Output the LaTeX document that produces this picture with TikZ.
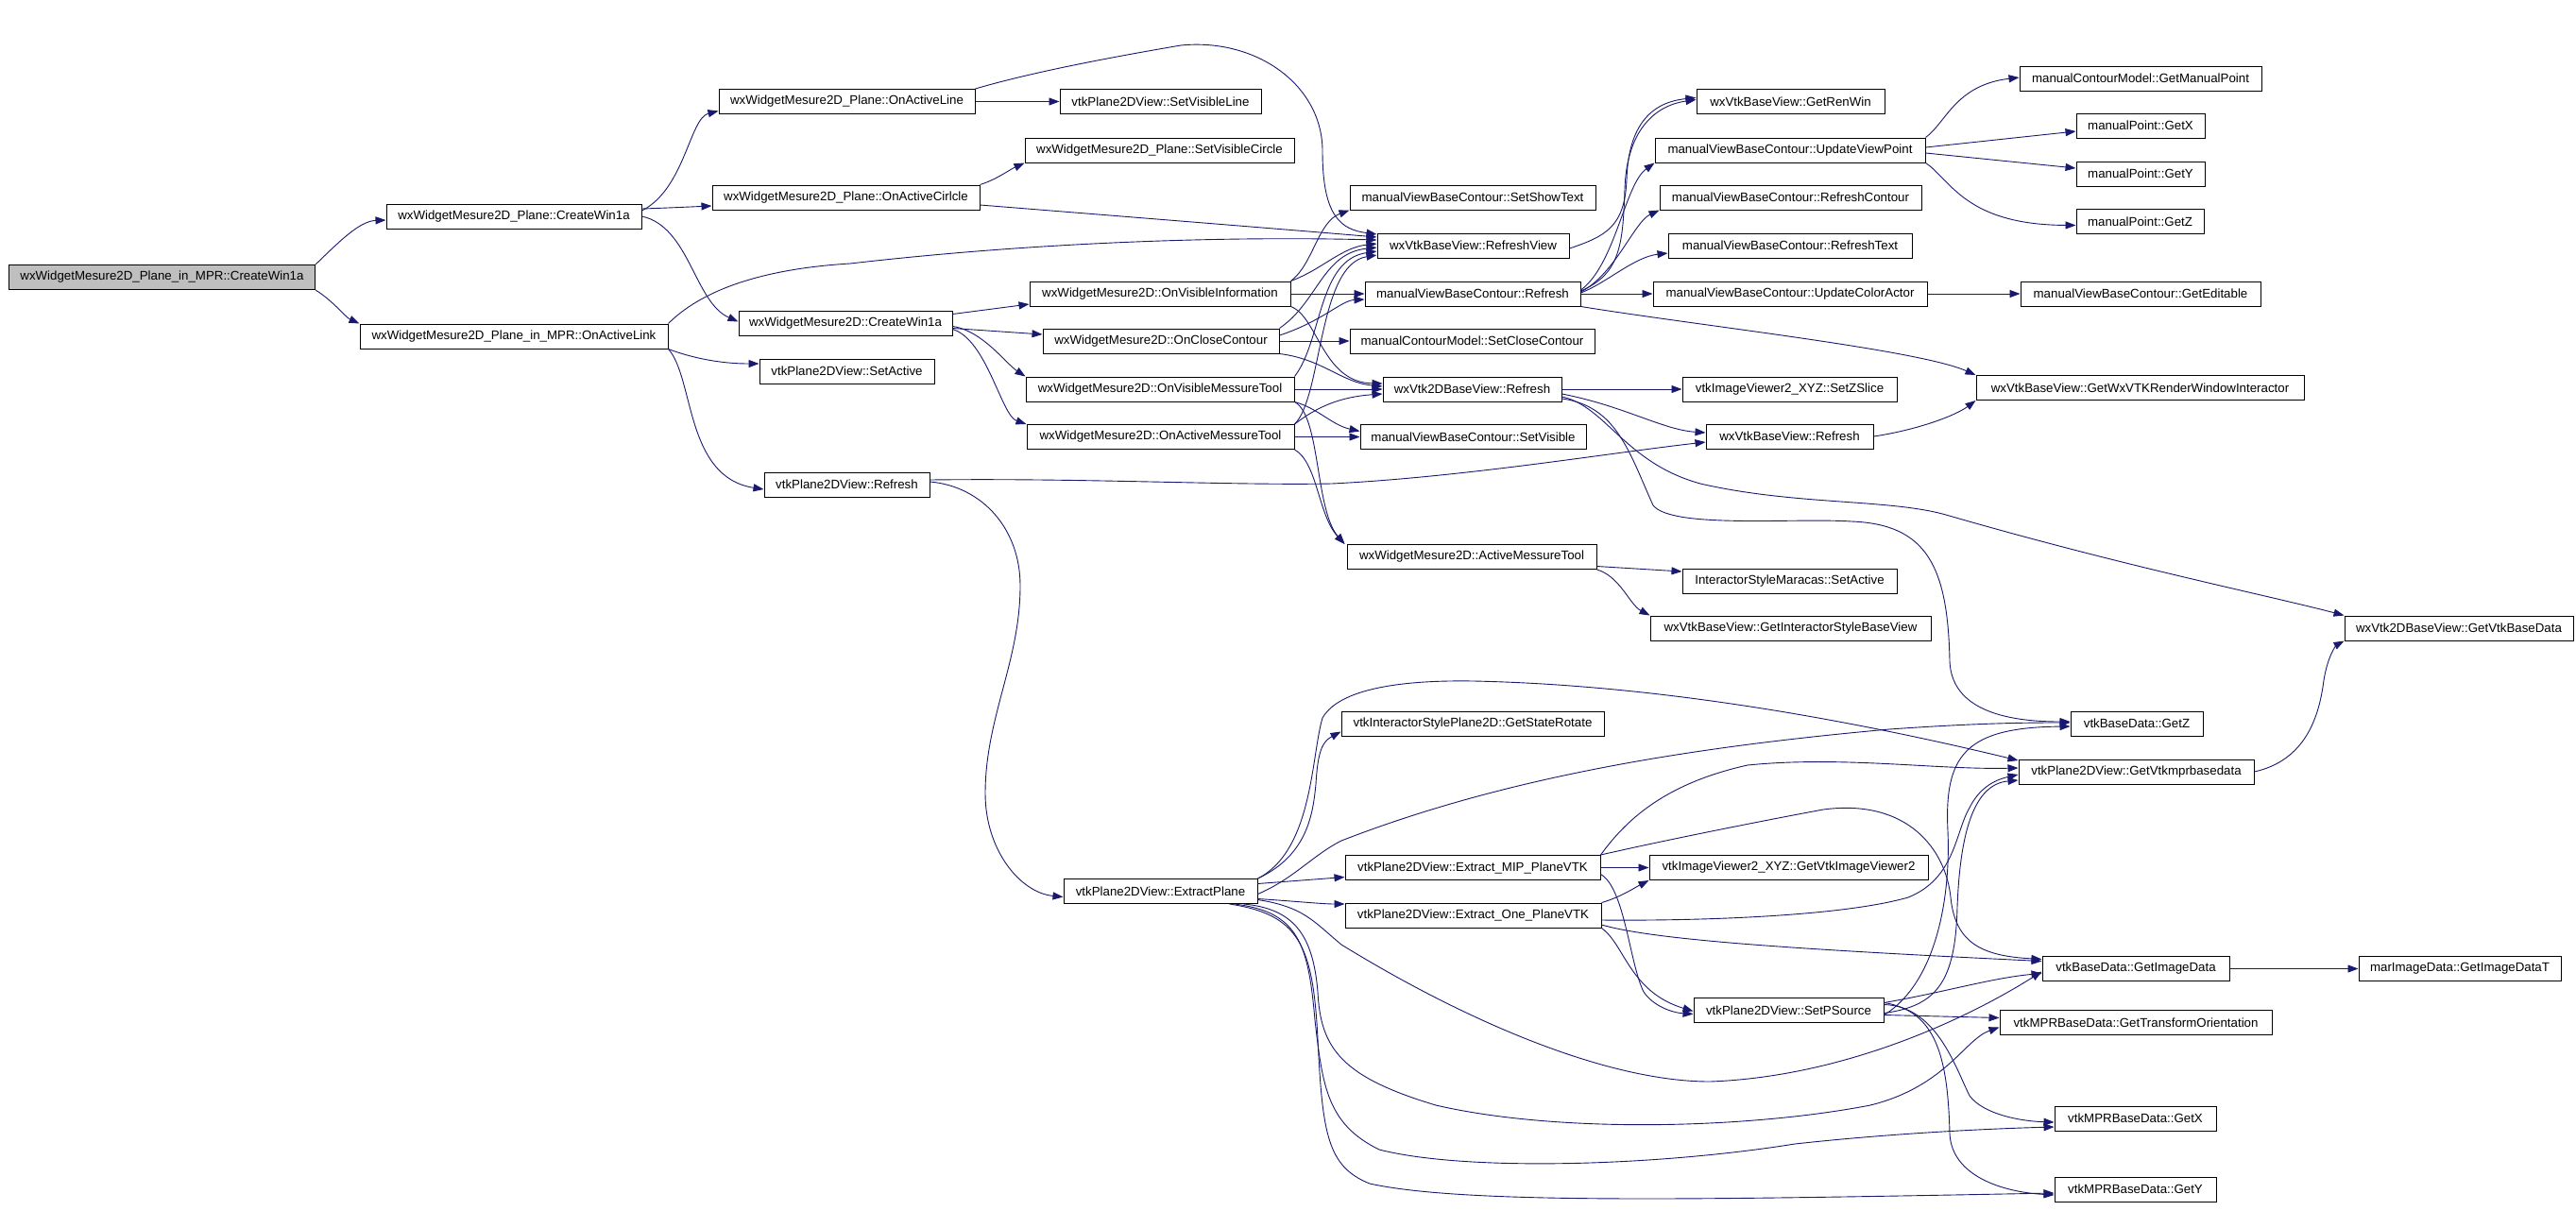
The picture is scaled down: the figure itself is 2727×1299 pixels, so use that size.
\documentclass[tikz,border=0pt]{standalone}
\usepackage{fontspec}
\setmainfont{Liberation Sans}
\usetikzlibrary{arrows.meta}
\definecolor{edgecol}{HTML}{191970}
\definecolor{rootfill}{HTML}{BFBFBF}
\begin{document}
\begin{tikzpicture}[x=1pt,y=-1pt,
 box/.style={draw=black, line width=1pt, fill=white, minimum height=26pt, inner sep=0pt, font=\fontsize{13.3}{15}\selectfont},
 edge/.style={draw=edgecol, line width=0.9pt, -{Triangle[length=11pt,width=8pt]}}]
\fill[white] (0,0) rectangle (2727,1299);
\useasboundingbox (0,0) rectangle (2727,1299);
% column 0
\node[box,fill=rootfill,minimum width=324pt] (R0) at (171.5,293.5) {wxWidgetMesure2D\_Plane\_in\_MPR::CreateWin1a};
% column 1
\node[box,minimum width=270pt] (A1) at (544,229) {wxWidgetMesure2D\_Plane::CreateWin1a};
\node[box,minimum width=326pt] (A2) at (544,356) {wxWidgetMesure2D\_Plane\_in\_MPR::OnActiveLink};
% column 2
\node[box,minimum width=271pt] (B1) at (896.5,107.5) {wxWidgetMesure2D\_Plane::OnActiveLine};
\node[box,minimum width=283pt] (B2) at (895.5,209) {wxWidgetMesure2D\_Plane::OnActiveCirlcle};
\node[box,minimum width=226pt] (B3) at (895,342.5) {wxWidgetMesure2D::CreateWin1a};
\node[box,minimum width=185pt] (B4) at (896.5,393) {vtkPlane2DView::SetActive};
\node[box,minimum width=175pt] (B5) at (896.5,513) {vtkPlane2DView::Refresh};
% column 3
\node[box,minimum width=213pt] (C1) at (1228.5,107.5) {vtkPlane2DView::SetVisibleLine};
\node[box,minimum width=285pt] (C2) at (1227.5,159) {wxWidgetMesure2D\_Plane::SetVisibleCircle};
\node[box,minimum width=276pt] (C3) at (1228,311) {wxWidgetMesure2D::OnVisibleInformation};
\node[box,minimum width=250pt] (C4) at (1229,361) {wxWidgetMesure2D::OnCloseContour};
\node[box,minimum width=284pt] (C5) at (1228,412) {wxWidgetMesure2D::OnVisibleMessureTool};
\node[box,minimum width=283pt] (C6) at (1228.5,462.5) {wxWidgetMesure2D::OnActiveMessureTool};
\node[box,minimum width=205pt] (C7) at (1228.5,943.5) {vtkPlane2DView::ExtractPlane};
% column 4
\node[box,minimum width=260pt] (D1) at (1559,209) {manualViewBaseContour::SetShowText};
\node[box,minimum width=203pt] (D2) at (1559.5,260) {wxVtkBaseView::RefreshView};
\node[box,minimum width=228pt] (D3) at (1559,311) {manualViewBaseContour::Refresh};
\node[box,minimum width=259pt] (D4) at (1558.5,361) {manualContourModel::SetCloseContour};
\node[box,minimum width=189pt] (D5) at (1558.5,412) {wxVtk2DBaseView::Refresh};
\node[box,minimum width=239pt] (D6) at (1559.5,462.5) {manualViewBaseContour::SetVisible};
\node[box,minimum width=264pt] (D7) at (1558,589.5) {wxWidgetMesure2D::ActiveMessureTool};
\node[box,minimum width=278pt] (D8) at (1559,766.5) {vtkInteractorStylePlane2D::GetStateRotate};
\node[box,minimum width=270pt] (D9) at (1559,918.5) {vtkPlane2DView::Extract\_MIP\_PlaneVTK};
\node[box,minimum width=271pt] (D10) at (1559.5,969) {vtkPlane2DView::Extract\_One\_PlaneVTK};
% column 5
\node[box,minimum width=199pt] (E1) at (1895.5,107.5) {wxVtkBaseView::GetRenWin};
\node[box,minimum width=286pt] (E2) at (1895,159) {manualViewBaseContour::UpdateViewPoint};
\node[box,minimum width=277pt] (E3) at (1895.5,209) {manualViewBaseContour::RefreshContour};
\node[box,minimum width=258pt] (E4) at (1895,260) {manualViewBaseContour::RefreshText};
\node[box,minimum width=290pt] (E5) at (1895,311) {manualViewBaseContour::UpdateColorActor};
\node[box,minimum width=227pt] (E6) at (1894.5,412) {vtkImageViewer2\_XYZ::SetZSlice};
\node[box,minimum width=177pt] (E7) at (1894.5,462) {wxVtkBaseView::Refresh};
\node[box,minimum width=227pt] (E8) at (1894.5,615) {InteractorStyleMaracas::SetActive};
\node[box,minimum width=297pt] (E9) at (1895.5,665) {wxVtkBaseView::GetInteractorStyleBaseView};
\node[box,minimum width=295pt] (E10) at (1893.5,918.5) {vtkImageViewer2\_XYZ::GetVtkImageViewer2};
\node[box,minimum width=201pt] (E11) at (1893.5,1069.5) {vtkPlane2DView::SetPSource};
% column 6
\node[box,minimum width=256pt] (F1) at (2266,83) {manualContourModel::GetManualPoint};
\node[box,minimum width=136pt] (F2) at (2266,133) {manualPoint::GetX};
\node[box,minimum width=136pt] (F3) at (2266,184) {manualPoint::GetY};
\node[box,minimum width=135pt] (F4) at (2265.5,234.5) {manualPoint::GetZ};
\node[box,minimum width=254pt] (F5) at (2266,311) {manualViewBaseContour::GetEditable};
\node[box,minimum width=347pt] (F6) at (2265.5,410.5) {wxVtkBaseView::GetWxVTKRenderWindowInteractor};
\node[box,minimum width=140pt] (F7) at (2262,766) {vtkBaseData::GetZ};
\node[box,minimum width=249pt] (F8) at (2261.5,817) {vtkPlane2DView::GetVtkmprbasedata};
\node[box,minimum width=198pt] (F9) at (2261,1025.5) {vtkBaseData::GetImageData};
\node[box,minimum width=288pt] (F10) at (2261,1082.5) {vtkMPRBaseData::GetTransformOrientation};
\node[box,minimum width=171pt] (F11) at (2260.5,1184) {vtkMPRBaseData::GetX};
\node[box,minimum width=171pt] (F12) at (2260.5,1259) {vtkMPRBaseData::GetY};
% column 7
\node[box,minimum width=242pt] (G1) at (2603,665) {wxVtk2DBaseView::GetVtkBaseData};
\node[box,minimum width=214pt] (G2) at (2604,1025.5) {marImageData::GetImageDataT};

% ---- edges ----
\draw[edge] (R0.north east) .. controls (357,258) and (380,234) .. ([yshift=-4pt]A1.west);
\draw[edge] (R0.south east) .. controls (352,318) and (366,336) .. (A2.north west);
\draw[edge] ([yshift=6pt]A1.east) .. controls (725,200) and (730,125) .. ([yshift=-10pt]B1.west);
\draw[edge] ([yshift=8pt]A1.east) .. controls (710,220) and (730,219) .. ([yshift=-9pt]B2.west);
\draw[edge] (A1.east) .. controls (730,240) and (735,320) .. ([yshift=2pt]B3.west);
\draw[edge] (A2.north east) .. controls (740,310) and (800,285) .. (900,279) .. controls (1100,256) and (1300,250) .. ([yshift=6pt]D2.west);
\draw[edge] (A2.south east) .. controls (730,378) and (760,385) .. ([yshift=8pt]B4.west);
\draw[edge] (A2.south east) .. controls (735,400) and (725,505) .. ([yshift=-5pt]B5.west);
\draw[edge] (B1.east) -- (C1.west);
\draw[edge] (B1.north east) .. controls (1080,80) and (1150,65) .. (1250,48) .. controls (1330,40) and (1400,90) .. (1400,160) .. controls (1400,230) and (1420,243) .. ([yshift=12pt]D2.west);
\draw[edge] (B2.north east) .. controls (1055,190) and (1068,180) .. (C2.south west);
\draw[edge] ([yshift=-8pt]B2.east) .. controls (1200,230) and (1350,242) .. ([yshift=9pt]D2.west);
\draw[edge] ([yshift=10pt]B3.east) -- ([yshift=-11pt]C3.west);
\draw[edge] ([yshift=-5pt]B3.east) -- ([yshift=7pt]C4.west);
\draw[edge] ([yshift=-3pt]B3.east) .. controls (1040,350) and (1065,385) .. (C5.north west);
\draw[edge] ([yshift=-6pt]B3.east) .. controls (1045,360) and (1060,440) .. (C6.north west);
\draw[edge] (C3.north east) .. controls (1390,280) and (1395,235) .. (D1.south west);
\draw[edge] (C3.north east) .. controls (1400,285) and (1420,262) .. ([yshift=2pt]D2.west);
\draw[edge] (C3.east) -- (D3.west);
\draw[edge] (C3.south east) .. controls (1395,335) and (1400,405) .. ([yshift=6pt]D5.west);
\draw[edge] (C4.north east) .. controls (1395,320) and (1400,268) .. ([yshift=-2pt]D2.west);
\draw[edge] ([yshift=6pt]C4.east) .. controls (1400,340) and (1420,318) .. ([yshift=-6pt]D3.west);
\draw[edge] (C4.east) -- (D4.west);
\draw[edge] (C4.south east) .. controls (1400,380) and (1420,405) .. ([yshift=3pt]D5.west);
\draw[edge] (C5.north east) .. controls (1400,360) and (1395,275) .. ([yshift=-6pt]D2.west);
\draw[edge] (C5.east) -- (D5.west);
\draw[edge] (C5.south east) .. controls (1395,432) and (1410,450) .. ([yshift=6pt]D6.west);
\draw[edge] (C5.south east) .. controls (1398,440) and (1392,540) .. ([xshift=-2pt]D7.north west);
\draw[edge] (C6.north east) .. controls (1400,420) and (1395,280) .. ([yshift=-10pt]D2.west);
\draw[edge] (C6.north east) .. controls (1395,430) and (1420,420) .. ([yshift=-5pt]D5.west);
\draw[edge] (C6.east) -- (D6.west);
\draw[edge] (C6.south east) .. controls (1395,490) and (1395,545) .. ([xshift=-2pt]D7.north west);
\draw[edge] ([yshift=5pt]B5.east) .. controls (1150,506) and (1300,514) .. (1410,512) .. controls (1550,505) and (1700,480) .. ([yshift=-6pt]E7.west);
\draw[edge] ([yshift=3pt]B5.east) .. controls (1040,515) and (1080,560) .. (1080,620) .. controls (1080,700) and (1043,760) .. (1043,840) .. controls (1043,900) and (1080,945) .. ([yshift=-6pt]C7.west);
\draw[edge] ([yshift=-3pt]D2.east) .. controls (1700,250) and (1720,240) .. (1722,190) .. controls (1724,130) and (1750,108) .. ([yshift=4pt]E1.west);
\draw[edge] ([yshift=3pt]D3.east) .. controls (1715,290) and (1718,260) .. (1720,200) .. controls (1722,140) and (1750,112) .. ([yshift=2pt]E1.west);
\draw[edge] ([yshift=4pt]D3.east) .. controls (1710,280) and (1720,195) .. (E2.south west);
\draw[edge] ([yshift=2pt]D3.east) .. controls (1710,290) and (1730,235) .. (E3.south west);
\draw[edge] ([yshift=1pt]D3.east) .. controls (1700,300) and (1730,272) .. ([yshift=-8pt]E4.west);
\draw[edge] (D3.east) -- (E5.west);
\draw[edge] (D3.south east) .. controls (1800,345) and (2030,370) .. (F6.north west);
\draw[edge] (E2.north east) .. controls (2060,130) and (2070,90) .. ([yshift=1pt]F1.west);
\draw[edge] ([yshift=3pt]E2.east) -- ([yshift=-6pt]F2.west);
\draw[edge] ([yshift=-3pt]E2.east) -- ([yshift=6pt]F3.west);
\draw[edge] (E2.south east) .. controls (2065,190) and (2080,238) .. ([yshift=-4pt]F4.west);
\draw[edge] (E5.east) -- (F5.west);
\draw[edge] (D5.east) -- (E6.west);
\draw[edge] ([yshift=-5pt]D5.east) .. controls (1720,430) and (1760,455) .. ([yshift=4pt]E7.west);
\draw[edge] ([yshift=-8pt]D5.east) .. controls (1700,430) and (1720,490) .. (1800,512) .. controls (1900,535) and (2000,528) .. (2060,545) .. controls (2250,600) and (2400,630) .. (G1.north west);
\draw[edge] ([yshift=-10pt]D5.east) .. controls (1712,430) and (1725,480) .. (1750,535) .. controls (1770,560) and (1900,548) .. (1960,552) .. controls (2040,555) and (2062,600) .. (2064,700) .. controls (2066,750) and (2120,764) .. ([yshift=2pt]F7.west);
\draw[edge] (E7.east) .. controls (2030,455) and (2070,440) .. (F6.south west);
\draw[edge] ([yshift=-10pt]D7.east) -- ([yshift=10pt]E8.west);
\draw[edge] (D7.south east) .. controls (1715,610) and (1725,640) .. (E9.north west);
\draw[edge] (C7.north east) .. controls (1385,905) and (1390,860) .. (1393,830) .. controls (1395,795) and (1400,785) .. ([yshift=-8pt]D8.west);
\draw[edge] (C7.north east) .. controls (1390,900) and (1388,800) .. (1400,760) .. controls (1420,725) and (1500,720) .. (1560,721) .. controls (1750,725) and (1950,760) .. ([yshift=12pt]F8.west);
\draw[edge] ([yshift=-3pt]C7.east) .. controls (1370,930) and (1390,905) .. (1420,890) .. controls (1600,820) and (1800,790) .. (2000,772) .. controls (2100,765) and (2150,765) .. ([yshift=1pt]F7.west);
\draw[edge] ([yshift=8pt]C7.east) -- ([yshift=-10pt]D9.west);
\draw[edge] ([yshift=-8pt]C7.east) .. controls (1370,954) and (1400,957) .. ([yshift=12pt]D10.west);
\draw[edge] ([yshift=-9pt]C7.east) .. controls (1380,960) and (1390,975) .. (1420,1000) .. controls (1550,1080) and (1700,1145) .. (1810,1145) .. controls (1950,1140) and (2080,1080) .. ([yshift=-3pt]F9.west);
\draw[edge] ([xshift=-15pt]C7.south east) .. controls (1370,962) and (1390,990) .. (1395,1050) .. controls (1398,1110) and (1420,1140) .. (1520,1170) .. controls (1650,1200) and (1850,1195) .. (1980,1170) .. controls (2060,1150) and (2080,1100) .. ([yshift=-5pt]F10.west);
\draw[edge] ([xshift=-25pt]C7.south east) .. controls (1375,965) and (1385,1000) .. (1392,1080) .. controls (1400,1150) and (1405,1190) .. (1460,1217) .. controls (1550,1240) and (1750,1235) .. (1900,1211) .. controls (2000,1200) and (2100,1195) .. ([yshift=-9pt]F11.west);
\draw[edge] ([xshift=-30pt]C7.south east) .. controls (1375,968) and (1390,1000) .. (1395,1100) .. controls (1400,1200) and (1405,1235) .. (1450,1253) .. controls (1550,1275) and (1800,1270) .. ([yshift=-4pt]F12.west);
\draw[edge] (D9.east) -- (E10.west);
\draw[edge] (D9.north east) .. controls (1720,870) and (1760,830) .. (1850,810) .. controls (1950,800) and (2050,815) .. ([yshift=4pt]F8.west);
\draw[edge] (D9.north east) .. controls (1760,890) and (1860,870) .. (1930,857) .. controls (2020,845) and (2060,900) .. (2065,950) .. controls (2070,1000) and (2100,1012) .. ([yshift=10pt]F9.west);
\draw[edge] ([yshift=-7pt]D9.east) .. controls (1720,940) and (1725,1020) .. (1740,1050) .. controls (1750,1065) and (1770,1072) .. ([yshift=-4pt]E11.west);
\draw[edge] (D10.north east) .. controls (1715,950) and (1730,940) .. (E10.south west);
\draw[edge] ([yshift=-5pt]D10.east) .. controls (1800,975) and (1950,970) .. (2020,950) .. controls (2070,930) and (2070,880) .. (2085,855) .. controls (2095,835) and (2110,826) .. ([yshift=-3pt]F8.west);
\draw[edge] ([yshift=-10pt]D10.east) .. controls (1750,995) and (1900,1005) .. ([yshift=8pt]F9.west);
\draw[edge] (D10.south east) .. controls (1720,1000) and (1725,1050) .. ([yshift=-1pt]E11.west);
\draw[edge] ([yshift=8pt]E11.east) .. controls (2060,1050) and (2110,1035) .. ([yshift=-5pt]F9.west);
\draw[edge] ([yshift=-3pt]E11.east) .. controls (2050,1065) and (2070,1040) .. (2072,960) .. controls (2075,880) and (2090,830) .. ([yshift=-9pt]F8.west);
\draw[edge] ([yshift=-5pt]E11.east) .. controls (2050,1040) and (2065,950) .. (2062,880) .. controls (2058,800) and (2080,770) .. ([yshift=-3pt]F7.west);
\draw[edge] ([yshift=-5pt]E11.east) -- ([yshift=5pt]F10.west);
\draw[edge] ([yshift=6pt]E11.east) .. controls (2050,1065) and (2070,1130) .. (2085,1160) .. controls (2100,1180) and (2140,1187) .. ([yshift=-4pt]F11.west);
\draw[edge] ([yshift=8pt]E11.east) .. controls (2050,1070) and (2062,1120) .. (2064,1200) .. controls (2066,1245) and (2120,1262) .. ([yshift=-6pt]F12.west);
\draw[edge] (F8.east) .. controls (2440,805) and (2455,760) .. (2460,720) .. controls (2465,690) and (2475,682) .. (G1.south west);
\draw[edge] (F9.east) -- (G2.west);
\end{tikzpicture}
\end{document}
